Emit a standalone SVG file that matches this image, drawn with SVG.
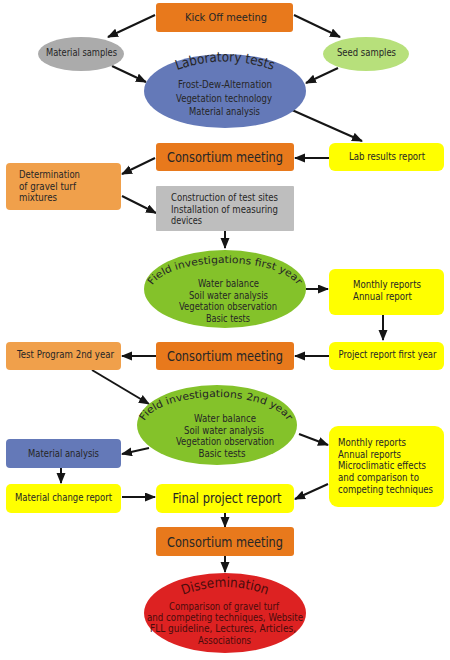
<svg xmlns="http://www.w3.org/2000/svg" width="450" height="660" viewBox="0 0 450 660">
<defs>
<style>
.t{font-family:"DejaVu Sans",Verdana,"Liberation Sans",sans-serif;font-size:10px;fill:#262626}
.m{text-anchor:middle}
.big{font-size:14.5px}
.ttl{font-size:13.5px}
.red{fill:#4a0c0c}
.org{fill:#E8791C}
.lor{fill:#F0A04B}
.yel{fill:#FFFF00}
.con line{stroke:#151515;stroke-width:2;marker-end:url(#ah)}
</style>
<marker id="ah" markerUnits="userSpaceOnUse" markerWidth="11" markerHeight="10" refX="10" refY="4.5" orient="auto">
<path d="M0,0 L11,4.5 L0,9 z" fill="#151515"/>
</marker>
<path id="pLab" d="M172,72 Q225,51 278,72"/>
<path id="pF1" d="M151,291 A74,28 0 0 1 299,291"/>
<path id="pF2" d="M143,427 A73,30 0 0 1 289,427"/>
<path id="pDis" d="M180,596 Q225,578 270,596"/>
</defs>
<rect width="450" height="660" fill="#ffffff"/>

<g class="con">
<line x1="155" y1="15" x2="108" y2="37"/>
<line x1="294" y1="15" x2="340" y2="37"/>
<line x1="112" y1="66" x2="146" y2="82"/>
<line x1="338" y1="68" x2="306" y2="83"/>
<line x1="292" y1="110" x2="362" y2="141"/>
<line x1="329" y1="158" x2="295" y2="158"/>
<line x1="155" y1="158" x2="122" y2="174"/>
<line x1="122" y1="196" x2="156" y2="213"/>
<line x1="225" y1="231" x2="225" y2="248"/>
<line x1="306" y1="289" x2="328" y2="289"/>
<line x1="383" y1="315" x2="383" y2="340"/>
<line x1="329" y1="356" x2="295" y2="356"/>
<line x1="156" y1="356" x2="122" y2="356"/>
<line x1="92" y1="370" x2="149" y2="404"/>
<line x1="299" y1="434" x2="328" y2="445"/>
<line x1="149" y1="448" x2="122" y2="454"/>
<line x1="61" y1="468" x2="61" y2="483"/>
<line x1="122" y1="497" x2="155" y2="497"/>
<line x1="328" y1="484" x2="295" y2="499"/>
<line x1="225" y1="513" x2="225" y2="527"/>
<line x1="225" y1="556" x2="225" y2="572"/>
</g>

<g id="kickoff">
<rect x="156" y="3" width="137" height="29" rx="3" class="org"/>
<text class="t m" x="226" y="21" font-size="12" textLength="82" lengthAdjust="spacingAndGlyphs">Kick Off meeting</text>
</g>
<g id="material-samples">
<ellipse cx="81" cy="54" rx="43" ry="17" fill="#ABABAB"/>
<text class="t m" x="81.5" y="56" textLength="71" lengthAdjust="spacingAndGlyphs">Material samples</text>
</g>
<g id="seed-samples">
<ellipse cx="366" cy="54" rx="43" ry="17" fill="#B7E07B"/>
<text class="t m" x="366.5" y="56" textLength="59" lengthAdjust="spacingAndGlyphs">Seed samples</text>
</g>
<g id="lab-tests">
<ellipse cx="225" cy="91" rx="81" ry="37" fill="#6479B8"/>
<text class="t ttl"><textPath href="#pLab" startOffset="50%" text-anchor="middle" textLength="98" lengthAdjust="spacingAndGlyphs">Laboratory tests</textPath></text>
<text class="t m" x="225" y="88" textLength="94" lengthAdjust="spacingAndGlyphs">Frost-Dew-Alternation</text>
<text class="t m" x="224" y="101.5" textLength="96" lengthAdjust="spacingAndGlyphs">Vegetation technology</text>
<text class="t m" x="224.5" y="115" textLength="71" lengthAdjust="spacingAndGlyphs">Material analysis</text>
</g>
<g id="lab-results">
<rect x="329" y="143" width="115" height="28" rx="6" class="yel"/>
<text class="t m" x="387" y="160" textLength="76" lengthAdjust="spacingAndGlyphs">Lab results report</text>
</g>
<g id="consortium1">
<rect x="156" y="143" width="138" height="28" rx="3" class="org"/>
<text class="t m big" x="225" y="162" textLength="116" lengthAdjust="spacingAndGlyphs">Consortium meeting</text>
</g>
<g id="determination">
<rect x="6" y="163" width="115" height="47" rx="4" class="lor"/>
<text class="t" x="19" y="178" textLength="61" lengthAdjust="spacingAndGlyphs">Determination</text>
<text class="t" x="19" y="189.5" textLength="57" lengthAdjust="spacingAndGlyphs">of gravel turf</text>
<text class="t" x="19" y="201" textLength="38" lengthAdjust="spacingAndGlyphs">mixtures</text>
</g>
<g id="construction">
<rect x="156" y="186" width="138" height="45" rx="1" fill="#BEBEBE"/>
<text class="t" x="171" y="201" textLength="107" lengthAdjust="spacingAndGlyphs">Construction of test sites</text>
<text class="t" x="171" y="212.5" textLength="107" lengthAdjust="spacingAndGlyphs">Installation of measuring</text>
<text class="t" x="171" y="224" textLength="31" lengthAdjust="spacingAndGlyphs">devices</text>
</g>
<g id="field1">
<ellipse cx="225" cy="289" rx="81" ry="39" fill="#84C22A"/>
<text class="t" font-size="12.5"><textPath href="#pF1" startOffset="50%" text-anchor="middle" textLength="156" lengthAdjust="spacingAndGlyphs">Field investigations first year</textPath></text>
<text class="t m" x="228.5" y="287" textLength="61" lengthAdjust="spacingAndGlyphs">Water balance</text>
<text class="t m" x="228.5" y="298.5" textLength="79" lengthAdjust="spacingAndGlyphs">Soil water analysis</text>
<text class="t m" x="228" y="310" textLength="98" lengthAdjust="spacingAndGlyphs">Vegetation observation</text>
<text class="t m" x="228" y="321.5" textLength="44" lengthAdjust="spacingAndGlyphs">Basic tests</text>
</g>
<g id="monthly1">
<rect x="329" y="269" width="115" height="46" rx="6" class="yel"/>
<text class="t" x="353" y="288" textLength="68" lengthAdjust="spacingAndGlyphs">Monthly reports</text>
<text class="t" x="353" y="300" textLength="59" lengthAdjust="spacingAndGlyphs">Annual report</text>
</g>
<g id="project1">
<rect x="329" y="342" width="115" height="28" rx="6" class="yel"/>
<text class="t m" x="387.5" y="358" font-size="9.5" textLength="98" lengthAdjust="spacingAndGlyphs">Project report first year</text>
</g>
<g id="consortium2">
<rect x="156" y="342" width="138" height="28" rx="3" class="org"/>
<text class="t m big" x="225" y="361" textLength="116" lengthAdjust="spacingAndGlyphs">Consortium meeting</text>
</g>
<g id="test-program">
<rect x="6" y="342" width="115" height="28" rx="4" class="lor"/>
<text class="t m" x="65.5" y="358" textLength="97" lengthAdjust="spacingAndGlyphs">Test Program 2nd year</text>
</g>
<g id="field2">
<ellipse cx="217" cy="425" rx="80" ry="40" fill="#84C22A"/>
<text class="t" font-size="12.5"><textPath href="#pF2" startOffset="50%" text-anchor="middle" textLength="156" lengthAdjust="spacingAndGlyphs">Field investigations 2nd year</textPath></text>
<text class="t m" x="225" y="422" textLength="62" lengthAdjust="spacingAndGlyphs">Water balance</text>
<text class="t m" x="224" y="433.5" textLength="80" lengthAdjust="spacingAndGlyphs">Soil water analysis</text>
<text class="t m" x="225" y="445" textLength="98" lengthAdjust="spacingAndGlyphs">Vegetation observation</text>
<text class="t m" x="222" y="456.5" textLength="47" lengthAdjust="spacingAndGlyphs">Basic tests</text>
</g>
<g id="monthly2">
<rect x="329" y="426" width="115" height="81" rx="9" class="yel"/>
<text class="t" x="338" y="446" textLength="68" lengthAdjust="spacingAndGlyphs">Monthly reports</text>
<text class="t" x="338" y="457.7" textLength="63" lengthAdjust="spacingAndGlyphs">Annual reports</text>
<text class="t" x="338" y="469.4" textLength="88" lengthAdjust="spacingAndGlyphs">Microclimatic effects</text>
<text class="t" x="338" y="481.1" textLength="81" lengthAdjust="spacingAndGlyphs">and comparison to</text>
<text class="t" x="338" y="492.8" textLength="95" lengthAdjust="spacingAndGlyphs">competing techniques</text>
</g>
<g id="material-analysis">
<rect x="6" y="439" width="115" height="29" rx="4" fill="#6479B8"/>
<text class="t m" x="63.5" y="456.5" textLength="71" lengthAdjust="spacingAndGlyphs">Material analysis</text>
</g>
<g id="material-change">
<rect x="6" y="484" width="115" height="29" rx="5" class="yel"/>
<text class="t m" x="63.5" y="501" textLength="97" lengthAdjust="spacingAndGlyphs">Material change report</text>
</g>
<g id="final-report">
<rect x="156" y="484" width="138" height="29" rx="6" class="yel"/>
<text class="t m big" x="227" y="502.5" textLength="109" lengthAdjust="spacingAndGlyphs">Final project report</text>
</g>
<g id="consortium3">
<rect x="156" y="527" width="138" height="29" rx="3" class="org"/>
<text class="t m big" x="225" y="546.5" textLength="116" lengthAdjust="spacingAndGlyphs">Consortium meeting</text>
</g>
<g id="dissemination">
<ellipse cx="225" cy="613" rx="81" ry="40" fill="#DD2222"/>
<text class="t ttl red"><textPath href="#pDis" startOffset="50%" text-anchor="middle" textLength="86" lengthAdjust="spacingAndGlyphs">Dissemination</textPath></text>
<text class="t m red" x="224" y="609.5" textLength="110" lengthAdjust="spacingAndGlyphs">Comparison of gravel turf</text>
<text class="t m red" x="225" y="621" textLength="156" lengthAdjust="spacingAndGlyphs">and competing techniques, Website</text>
<text class="t m red" x="223" y="632" textLength="146" lengthAdjust="spacingAndGlyphs">FLL guideline, Lectures, Articles,</text>
<text class="t m red" x="224.5" y="643.5" textLength="53" lengthAdjust="spacingAndGlyphs">Associations</text>
</g>
</svg>
